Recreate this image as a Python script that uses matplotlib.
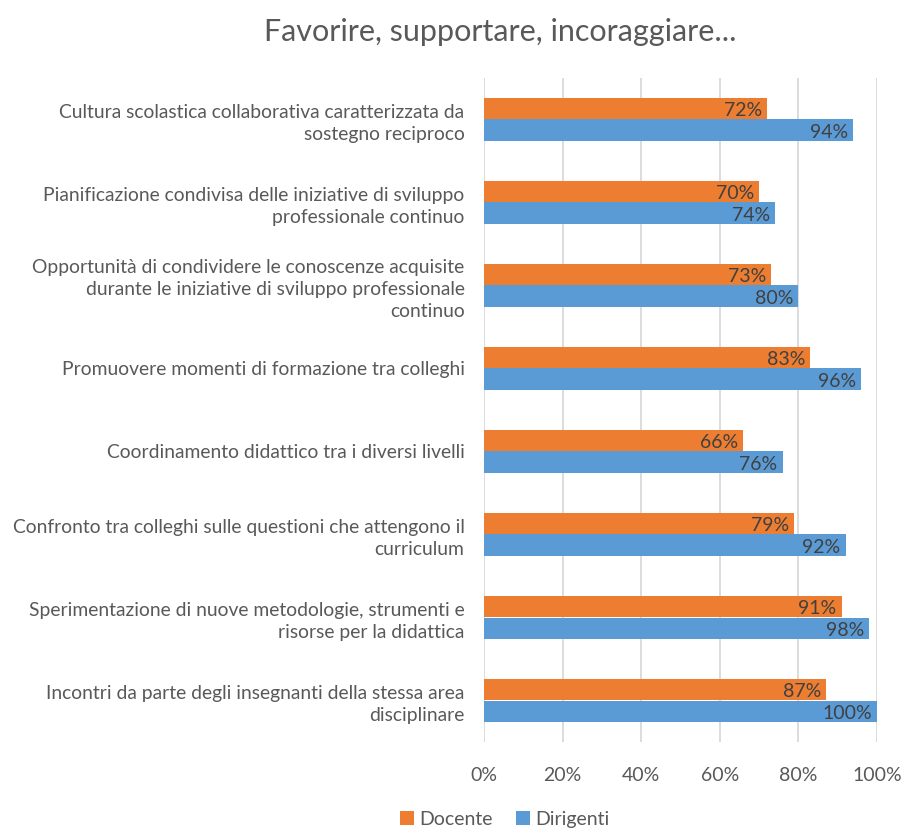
import matplotlib
matplotlib.use('Agg')
import matplotlib.pyplot as plt
import numpy as np

plt.rcParams['font.family'] = ['Lato', 'DejaVu Sans']

categories = [
    'Cultura scolastica collaborativa caratterizzata da\nsostegno reciproco',
    'Pianificazione condivisa delle iniziative di sviluppo\nprofessionale continuo',
    'Opportunità di condividere le conoscenze acquisite\ndurante le iniziative di sviluppo professionale\ncontinuo',
    'Promuovere momenti di formazione tra colleghi',
    'Coordinamento didattico tra i diversi livelli',
    'Confronto tra colleghi sulle questioni che attengono il\ncurriculum',
    'Sperimentazione di nuove metodologie, strumenti e\nrisorse per la didattica',
    'Incontri da parte degli insegnanti della stessa area\ndisciplinare',
]
docente = [72, 70, 73, 83, 66, 79, 91, 87]
dirigenti = [94, 74, 80, 96, 76, 92, 98, 100]
ticks = [0, 20, 40, 60, 80, 100]

orange = '#ED7D31'
blue = '#5B9BD5'
text_col = '#595959'
label_col = '#404040'

fig = plt.figure(figsize=(9.02, 8.3), dpi=100)
ax = fig.add_axes([484 / 902, 1 - 742 / 830, (877 - 484) / 902, (742 - 78) / 830])

y = np.arange(len(categories))
h = 0.265
b1 = ax.barh(y - h / 2, docente, height=h, color=orange, label='Docente', zorder=3)
b2 = ax.barh(y + h / 2, dirigenti, height=h, color=blue, label='Dirigenti', zorder=3)

for bars, vals in ((b1, docente), (b2, dirigenti)):
    for bar, v in zip(bars, vals):
        ax.text(v - 1.3, bar.get_y() + bar.get_height() / 2 + 0.02, f'{v}%',
                ha='right', va='center', fontsize=14, color=label_col, zorder=4)

ax.set_xlim(0, 100)
ax.set_ylim(len(categories) - 0.5, -0.5)
ax.set_xticks(ticks)
ax.set_xticklabels([f'{t}%' for t in ticks], fontsize=14, color=text_col)
ax.set_yticks(y)
ax.set_yticklabels(categories, fontsize=13.9, color=text_col, linespacing=1.38)
ax.tick_params(axis='both', length=0)
ax.tick_params(axis='y', pad=14)
ax.tick_params(axis='x', pad=18)
ax.grid(axis='x', color='#D9D9D9', linewidth=1.3, zorder=0)
for s in ax.spines.values():
    s.set_visible(False)

fig.text(500 / 902, 1 - 32 / 830, 'Favorire, supportare, incoraggiare...',
         ha='center', va='center', fontsize=22, color=text_col)

fig.legend(handles=[b1, b2], labels=['Docente', 'Dirigenti'], loc='center',
           bbox_to_anchor=(505 / 902, 1 - 819 / 830), ncol=2, frameon=False,
           fontsize=14, labelcolor=text_col, handlelength=0.7, handleheight=0.7,
           handletextpad=0.3, columnspacing=1.2)

fig.savefig('out.png', dpi=100, facecolor='white')
